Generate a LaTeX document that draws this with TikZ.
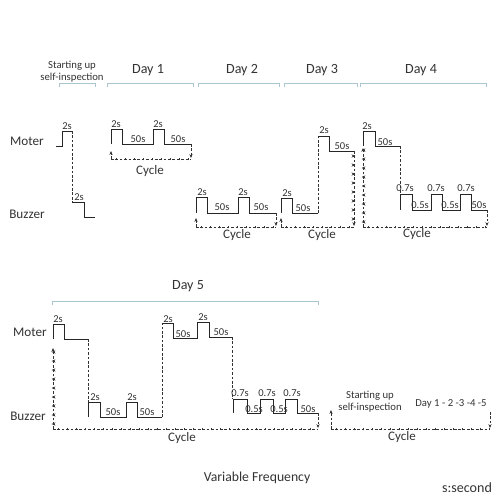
\documentclass[tikz,border=0pt]{standalone}
\usepackage{fontspec}
\setmainfont{Carlito}
\usetikzlibrary{arrows.meta,decorations.markings}
\definecolor{bcol}{RGB}{170,198,208}
\begin{document}
\begin{tikzpicture}[x=0.02cm,y=-0.02cm,
 sig/.style={line width=0.5pt,black!85},
 dsh/.style={line width=0.4pt,black!80,dash pattern=on 1.5pt off 1pt},
 tip/.style={-{Stealth[length=2.2pt,width=1.8pt]}},
 cyc/.style={line width=0.4pt,black!80,dash pattern=on 1.5pt off 1pt,postaction={decorate},
   decoration={markings,mark=between positions 0.1cm and 1 step 0.18cm with {\draw[solid,line width=0.5pt] (0,-0.8pt)--(0,0.8pt);}}},
 brk/.style={line width=0.55pt,color=bcol},
 lab/.style={font=\fontsize{6}{7}\selectfont,inner sep=0pt,text=black!80},
 day/.style={font=\fontsize{8}{9}\selectfont,inner sep=0pt,text=black!80},
 sname/.style={font=\fontsize{7.5}{9}\selectfont,inner sep=0pt,text=black!80},
 cyct/.style={font=\fontsize{7.4}{9}\selectfont,inner sep=0pt,text=black!80},
 info/.style={font=\fontsize{6.1}{6.6}\selectfont,inner sep=0pt,align=center,text=black!80}]
\useasboundingbox (0,0) rectangle (500,500);

% ---------- brackets and headings ----------
\node[info] (su) at (72,71.5) {Starting up\\self-inspection};
\node[day] (d1) at (148,70) {Day 1};
\node[day] (d2) at (242,70) {Day 2};
\node[day] (d3) at (322,70) {Day 3};
\node[day] (d4) at (421,70) {Day 4};
\node[day] (d5) at (188,286) {Day 5};
\draw[brk] (59,87) -- (59,83.5) -- (95,83.5) -- (95,87);
\draw[brk] (107,87) -- (107,83.5) -- (193,83.5) -- (193,87);
\draw[brk] (198,87) -- (198,83.5) -- (279,83.5) -- (279,87);
\draw[brk] (284,87) -- (284,83.5) -- (357,83.5) -- (357,87);
\draw[brk] (360,87) -- (360,83.5) -- (486,83.5) -- (486,87);
\draw[brk] (52,305) -- (52,301) -- (318,301) -- (318,305);

% ---------- signal names ----------
\node[sname] (m1) at (27,141) {Moter};
\node[sname] (b1) at (27,214) {Buzzer};
\node[sname] (m2) at (30,332) {Moter};
\node[sname] (b2) at (28,416) {Buzzer};

% ---------- start-up ----------
\draw[sig] (56,146) -- (62,146) -- (62,131) -- (72,131);
\draw[dsh] (72,131) -- (72,202);
\draw[sig] (72,202) -- (84,202) -- (84,217) -- (95,217);
\node[lab] (s1) at (67,126) {2s};
\node[lab] (s2) at (79,197) {2s};

% ---------- Day 1 ----------
\draw[sig] (111,144) -- (111,129) -- (122,129) -- (122,144) -- (153,144) -- (153,129) -- (164,129) -- (164,144) -- (191,144);
\draw[dsh,tip] (191,144) -- (191,158);
\draw[cyc] (111,159) -- (191,159);
\draw[dsh,tip] (111,159) -- (111,151);
\node[lab] at (116,124) {2s};
\node[lab] at (138,139) {50s};
\node[lab] at (158,124) {2s};
\node[lab] at (178,139) {50s};
\node[cyct] (c1) at (150,171) {Cycle};

% ---------- Day 2 ----------
\draw[sig] (196,213) -- (196,197) -- (207,197) -- (207,213) -- (238,213) -- (238,197) -- (249,197) -- (249,213) -- (276,213);
\draw[dsh,tip] (276,213) -- (276,226);
\draw[cyc] (196,227) -- (276,227);
\draw[dsh,tip] (196,227) -- (196,218);
\node[lab] at (202,192) {2s};
\node[lab] at (222,207) {50s};
\node[lab] at (243,192) {2s};
\node[lab] at (261,207) {50s};
\node[cyct] (c2) at (237,235) {Cycle};

% ---------- Day 3 ----------
\draw[sig] (281,213) -- (281,198) -- (292,198) -- (292,213) -- (318,213);
\draw[dsh] (318,213) -- (318,136);
\draw[sig] (318,136) -- (329,136) -- (329,151) -- (354,151);
\draw[cyc,tip] (354,151) -- (354,226);
\draw[cyc] (281,227) -- (354,227);
\draw[dsh,tip] (281,227) -- (281,218);
\node[lab] at (287,193) {2s};
\node[lab] at (303,208) {50s};
\node[lab] at (324,130) {2s};
\node[lab] at (342,146) {50s};
\node[cyct] (c3) at (322,235) {Cycle};

% ---------- Day 4 ----------
\draw[sig] (363,146) -- (363,131) -- (375,131) -- (375,146) -- (400,146);
\draw[dsh] (400,146) -- (400,194);
\draw[sig] (400,210) -- (400,194) -- (412,194) -- (412,210) -- (431,210) -- (431,194) -- (442,194) -- (442,210) -- (460,210) -- (460,194) -- (471,194) -- (471,210) -- (487,210);
\draw[dsh,tip] (487,210) -- (487,226);
\draw[cyc] (363,227) -- (487,227);
\draw[cyc,tip] (363,227) -- (363,148);
\node[lab] at (367,126) {2s};
\node[lab] at (385,142) {50s};
\node[lab] at (405,188) {0.7s};
\node[lab] at (420,205) {0.5s};
\node[lab] at (436,188) {0.7s};
\node[lab] at (450,205) {0.5s};
\node[lab] at (466,188) {0.7s};
\node[lab] at (479,205) {50s};
\node[cyct] (c4) at (417,234) {Cycle};

% ---------- Day 5 ----------
\draw[sig] (53,339) -- (53,324) -- (64,324) -- (64,339) -- (88,339);
\draw[dsh] (88,339) -- (88,402);
\draw[sig] (88,417) -- (88,402) -- (100,402) -- (100,417) -- (126,417) -- (126,402) -- (137,402) -- (137,417) -- (162,417);
\draw[dsh] (162,417) -- (162,323);
\draw[sig] (162,323) -- (173,323) -- (173,338) -- (197,338) -- (197,322) -- (209,322) -- (209,337) -- (232,337);
\draw[dsh] (232,337) -- (232,399);
\draw[sig] (233,413) -- (233,399) -- (247,399) -- (247,413) -- (260,413) -- (260,399) -- (273,399) -- (273,413) -- (285,413) -- (285,399) -- (297,399) -- (297,413) -- (318,413);
\draw[dsh,tip] (318,413) -- (318,428);
\draw[cyc] (53,429) -- (318,429);
\draw[cyc,tip] (53,429) -- (53,348);
\node[lab] at (58,319) {2s};
\node[lab] at (95,397) {2s};
\node[lab] at (113,412) {50s};
\node[lab] at (132,397) {2s};
\node[lab] at (147,412) {50s};
\node[lab] at (168,319) {2s};
\node[lab] at (183,334) {50s};
\node[lab] at (203,317) {2s};
\node[lab] at (221,332) {50s};
\node[lab] at (240,393) {0.7s};
\node[lab] at (254,409) {0.5s};
\node[lab] at (267,393) {0.7s};
\node[lab] at (279,409) {0.5s};
\node[lab] at (292,393) {0.7s};
\node[lab] at (308,409) {50s};
\node[cyct] (c5) at (182,438) {Cycle};

% ---------- legend ----------
\node[info] (lsu) at (370,401.5) {Starting up\\self-inspection};
\node[info] (lday) at (451,404) {Day 1 - 2 -3 -4 -5};
\draw[cyc] (331,429) -- (490,429);
\draw[dsh,tip] (331,429) -- (331,410);
\draw[dsh,tip] (490,412) -- (490,428);
\node[cyct] (c6) at (402,437) {Cycle};

\node[font=\fontsize{7.8}{9}\selectfont,inner sep=0pt,text=black!80] (vf) at (257,478) {Variable Frequency};
\node[font=\fontsize{8}{9}\selectfont,inner sep=0pt,text=black!80] (sec) at (467,488) {s:second};
\end{tikzpicture}
\end{document}
